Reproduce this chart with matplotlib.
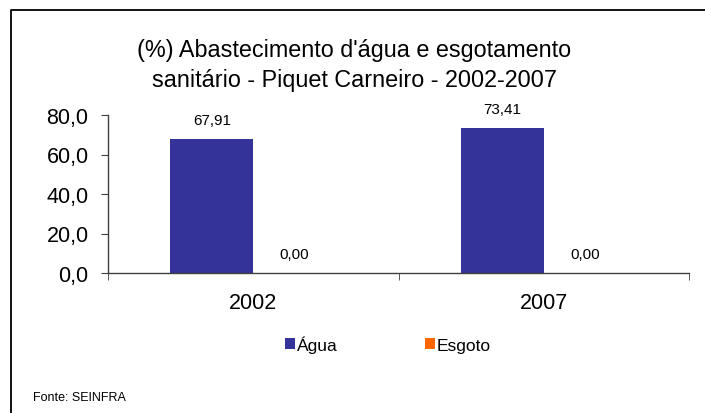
import matplotlib
matplotlib.use("Agg")
import matplotlib.pyplot as plt
from matplotlib.lines import Line2D
from matplotlib.patches import Patch

plt.rcParams['font.family'] = ['Liberation Sans', 'DejaVu Sans']

categories = ["2002", "2007"]
agua = [67.91, 73.41]
esgoto = [0.00, 0.00]
series_names = ["Água", "Esgoto"]
yticks = [0, 20, 40, 60, 80]
ytick_labels = ["0,0", "20,0", "40,0", "60,0", "80,0"]
title_lines = ["(%) Abastecimento d'água e esgotamento",
               "sanitário - Piquet Carneiro - 2002-2007"]
source = "Fonte: SEINFRA"

W, H = 705, 414
fig = plt.figure(figsize=(W / 100, H / 100), dpi=100)
fig.patch.set_facecolor("white")

# outer frame (left & top only visible)
fig.add_artist(Line2D([10.5 / W, 10.5 / W, 1.0], [0, 1 - 10.5 / H, 1 - 10.5 / H],
                      transform=fig.transFigure, color="black", lw=1.3))

ax = fig.add_axes([108 / W, (H - 274) / H, (689 - 108) / W, (274 - 116) / H])
x = list(range(len(categories)))
bw = 0.285
c_agua = "#333399"
c_esg = "#FF6600"
ax.bar([i - bw / 2 for i in x], agua, width=bw, color=c_agua, zorder=2)
ax.bar([i + bw / 2 for i in x], esgoto, width=bw, color=c_esg, zorder=2)

def fmt(v):
    return f"{v:.2f}".replace(".", ",")

for i in x:
    ax.annotate(fmt(agua[i]), (i - bw / 2, agua[i]), xytext=(0, 19 * 0.72),
                textcoords="offset points", ha="center", va="center", fontsize=11)
    ax.annotate(fmt(esgoto[i]), (i + bw / 2, esgoto[i]), xytext=(0, 19 * 0.72),
                textcoords="offset points", ha="center", va="center", fontsize=11)

ax.set_xlim(-0.5, len(categories) - 0.5)
ax.set_ylim(0, 80)
ax.set_yticks(yticks)
ax.set_yticklabels(ytick_labels, fontsize=15.5)
ax.set_xticks(x)
ax.set_xticklabels(categories, fontsize=15.5)
ax.tick_params(axis="x", which="major", length=0, pad=14)
ax.set_xticks([-0.5 + k for k in range(len(categories) + 1)], minor=True)
ax.tick_params(axis="x", which="minor", length=5, direction="out", color="#404040")
ax.tick_params(axis="y", length=5, direction="out", color="#404040", pad=9)
for s in ["top", "right"]:
    ax.spines[s].set_visible(False)
for s in ["left", "bottom"]:
    ax.spines[s].set_color("#404040")
    ax.spines[s].set_linewidth(1.0)

fig.text(354 / W, 1 - 50 / H, title_lines[0], ha="center", va="center", fontsize=16.8)
fig.text(354 / W, 1 - 80 / H, title_lines[1], ha="center", va="center", fontsize=16.8)

handles = [Patch(facecolor=c_agua), Patch(facecolor=c_esg)]
fig.legend(handles, series_names, loc="center", bbox_to_anchor=(388 / W, 1 - 345 / H),
           ncol=2, frameon=False, fontsize=12.5, handlelength=0.6, handleheight=0.6,
           handletextpad=0.1, columnspacing=5.0)

fig.text(33 / W, 1 - 398 / H, source, ha="left", va="center", fontsize=9)

fig.savefig("out.png", dpi=100)
